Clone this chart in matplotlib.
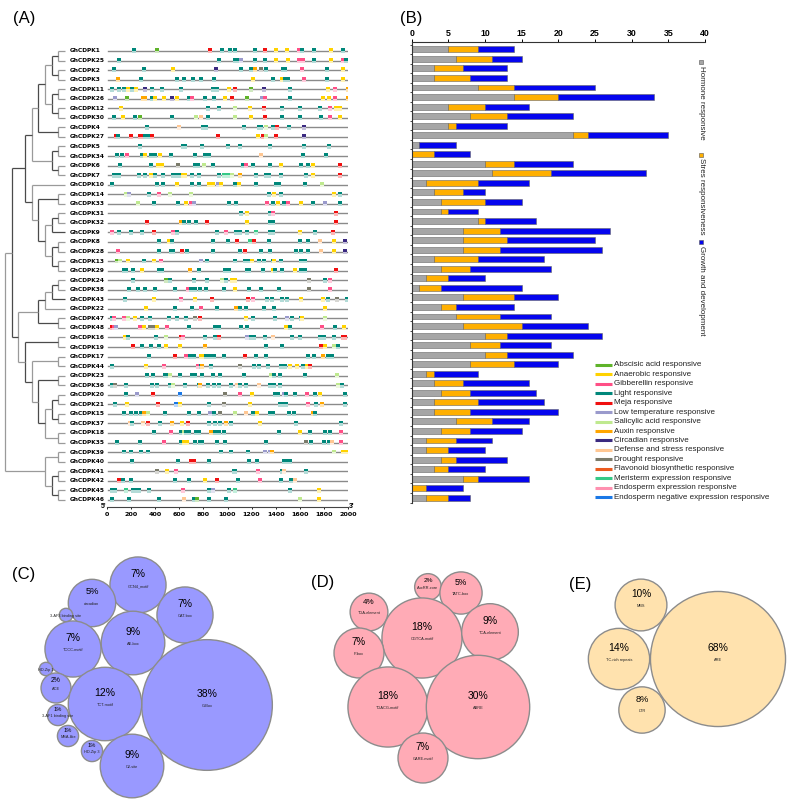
import numpy as np
import matplotlib
matplotlib.use('Agg')
import matplotlib.pyplot as plt
from matplotlib.patches import Rectangle, Circle

plt.rcParams['font.family'] = ['Liberation Sans', 'DejaVu Sans']

# ---------------- data ----------------
genes = ['GhCDPK' + n for n in
         ['1', '25', '2', '3', '11', '26', '12', '30', '4', '27', '5', '34', '6', '7',
          '10', '14', '33', '31', '32', '9', '8', '28', '13', '29', '24', '38', '43', '22',
          '47', '48', '16', '19', '17', '44', '23', '36', '20', '21', '15', '37', '18', '35',
          '39', '40', '41', '42', '45', '46']]

# phylogenetic tree (leaf numbers)
tree = (((((((('1', '25'), ('2', '3')), (('11', '26'), ('12', '30'))), ('4', '27')),
            (('5', '34'), ('6', '7'))),
           ('10', (('14', '33'), ((('31', '32'), '9'), (('8', '28'), ('13', '29')))))),
          ((((('24', '38'), '43'), '22'), ('47', '48')),
           (('16', '19'), (('17', '44'), (('23', '36'), ((('20', '21'), ('15', '37')), ('18', '35'))))))),
         (('39', '40'), (('41', '42'), ('45', '46'))))

# cis-element sites per gene: code + position (bp)
motif_sites = [
    'L221 A415 M857 L957 L1018 L1059 L1225 M1308 Y1400 Y1494 G1593 L1621 L1715 Y1862 L1958',
    'L100 L927 L1059 L1087 T1115 L1225 L1308 Y1400 Y1502 G1593 G1626 L1715 Y1862 G1958 L1980',
    'L55 L304 Y545 C902 L1109 L1198 O1225 R1281 L1322 L1460 L1480 G1618 L1828 Y1958',
    'O91 L279 L584 L639 L714 L777 L888 Y1212 L1377 Y1455 L1480 L1502 G1635 L1828 Y1958',
    'L44 L97 L141 Y174 L210 Y243 C318 L373 L456 L617 L880 L913 Y1010 M1065 A1198 C1303 L1521 Y1834 G1889 O2000',
    'T69 A166 O299 O318 L376 Y401 Y473 C539 Y584 L680 G705 L816 L885 Y982 M1037 A1162 T1286 G1308 L1521 Y1792 Y1839 G1889 O2000',
    'Y113 L838 L929 S1059 Y1189 M1300 L1452 L1599 L1770 G1848 Y1903 Y1936',
    'L58 Y133 L230 A271 L539 S741 D777 L838 S1059 Y1198 M1308 L1455 L1599 L1773 G1848 Y1936',
    'L335 D595 L797 L824 L1137 L1261 L1281 S1322 L1377 M1411 L1508 C1632',
    'M72 L91 M196 M271 M293 L318 L340 M373 M921 Y1253 M1294 S1322 M1400 C1632',
    'L277 L631 L650 L788 L1004 L1106 L1355 L1632 L1842',
    'L83 L127 G166 L293 Y318 L368 L401 Y437 L528 L727 L816 L844 D1281 L1626 L1820',
    'L105 L362 Y423 Y459 R589 L733 L755 S805 L880 L1129 G1151 L1212 L1350 Y1447 L1607 L1668 Y1709 M1931',
    'L58 L77 L100 L263 L318 Y368 L401 L465 L548 L575 L603 Y631 Y645 L708 L761 L927 E968 E1004 S1037 O1101 L1234 L1322 L1344 L1447 L1654 Y1709 M1931',
    'L44 L418 L465 Y581 L708 L761 Y844 Y880 T921 Y949 L1059 Y1095 L1239 L1405 L1427 L1646 S1787',
    'S160 T180 L346 G432 S520 S694 L1344 Y1383 L1441 Y1884 L1931',
    'S257 L387 L589 Y658 G700 T722 L1012 L1073 G1330 L1377 Y1419 L1469 G1502 Y1607 L1709 T1806 L1931',
    'L1115 Y1165 L1350 G1377 M1898',
    'M335 O611 L639 L680 L741 M830 Y1165 L1350 L1377 M1898',
    'G41 L97 L202 L290 M390 G548 L584 L913 G985 L1073 L1106 L1162 E1239 L1350 L1377 Y1599 L1723 M1875',
    'L432 Y515 L542 L880 L1007 M1079 E1189 M1223 L1344 L1599 L1668 D1765 Y1884 C1978',
    'G91 L432 L534 L548 M625 L667 L880 L1106 M1142 L1281 L1350 L1566 L1613 L1668 D1779 Y1884 C1978',
    'A83 S105 Y174 L307 Y387 G451 T777 L830 L1059 L1142 L1162 L1184 Y1203 L1261 L1303 L1377 Y1383 L1441 L1613 L1640',
    'L141 L160 L216 Y293 L432 L456 O686 L761 L982 L1010 L1165 L1178 L1294 Y1377 L1397 L1452 Y1557 L1613 L1640 M1898',
    'L216 A492 L520 L722 L830 S954 L985 Y1037 Y1065 R1676 L1806 G1848',
    'L180 L257 L318 L401 L561 G672 L694 L727 L769 L824 L968 Y1059 L1178 L1281 L1427 R1676 G1848',
    'L152 Y387 G617 Y727 M871 M1170 G1212 L1328 L1372 L1455 L1494 Y1607 Y1792 L1834 R1909 L1992',
    'Y326 L567 L708 G777 L913 O1073 L1101 L1156 L1300 L1383 Y1806',
    'L41 G58 G141 S174 Y230 L290 L360 L512 L581 L658 R727 M769 Y1156 L1212 L1391 T1494 L1538 L1613 Y1618 S1806',
    'M41 G58 T72 G277 Y307 R354 R390 Y415 G501 L678 L893 L927 L1109 L1162 Y1488 L1516 G1784 L1889 Y1964',
    'Y147 L174 L404 S492 M611 G631 L810 L899 M927 T1165 L1192 L1220 L1314 D1377 L1535 L1599 L1765 L1798 L1884 M1958 M1978',
    'M216 L293 L362 L432 Y492 Y603 O810 L1322 L1452 M1779 Y1806 S1884 L1917',
    'L346 M561 G658 L686 L722 Y783 Y797 L824 L857 L888 L968 M1142 L1234 L1322 L1668 L1715 O1792 L1834 L1870',
    'L44 Y326 G470 G755 L783 O788 L866 R1101 L1220 L1259 L1336 L1447 L1480 Y1516 Y1579 L1626 Y1662 M1682',
    'L332 L382 L478 L515 S526 L603 L708 L727 L791 L880 L935 L1137 S1364 L1383 L1433 L1646 S1911',
    'L41 R64 L155 L373 L418 L520 S548 L645 L761 O769 L838 L885 L927 L1032 D1079 L1106 L1151 D1261 L1355 L1383 L1433 S1917 L1950',
    'L155 T249 M382 N603 R982 G1101 Y1203 L1391 L1419 T1466 L1488 L1557 G1660 L1723 Y1770 L1978',
    'L69 Y166 M423 N575 Y603 L844 R971 Y1189 L1433 L1455 L1488 G1668 L1731 O1787 L1978',
    'L144 L202 L243 L285 O304 S340 L478 L680 L763 T857 L888 R940 S1065 D1151 L1212 Y1245 L1355 L1377 L1508 L1552 O1709 L1729',
    'D188 L207 D299 M340 L437 O542 Y625 M672 L844 L899 L940 O985 L1032 Y1272 L1571 L1945',
    'L387 G528 L617 S636 L658 L678 L741 L761 O866 L893 L927 L971 L1427 Y1599 L1682 L1687 L1806 L1848 G1945',
    'L83 L271 G473 L617 Y636 Y667 L727 L769 L788 L913 L976 L1322 R1649 L1690 L1801 L1839 D1870 G1945',
    'L138 L202 L285 L340 L949 L1032 L1170 T1308 T1355 O1372 S1884 Y1958 Y1980',
    'L210 L589 M700 M722 L844 L1176 L1248 L1469 L1494 L1516',
    'R418 Y501 G575 L1054 L1065 G1253 L1452 D1466 L1649',
    'M97 L133 L196 L567 L678 Y810 M913 L1087 G1267 L1447 L1530 D1557',
    'L41 L64 E155 L216 L249 L266 L349 G628 L844 T880 L1010 E1059 L1516 Y1756',
    'L44 L180 L429 D636 L719 A747 L846 L990 S1604 Y1756',
]

element_codes = ['A', 'Y', 'G', 'L', 'M', 'T', 'S', 'O', 'C', 'D', 'R', 'F', 'E', 'P', 'N']
element_names = ['Abscisic acid responsive', 'Anaerobic responsive', 'Gibberellin responsive',
                 'Light responsive', 'Meja responsive', 'Low temperature responsive',
                 'Salicylic acid responsive', 'Auxin responsive', 'Circadian responsive',
                 'Defense and stress responsive', 'Drought responsive',
                 'Flavonoid biosynthetic responsive', 'Meristerm expression responsive',
                 'Endosperm expression responsive', 'Endosperm negative expression responsive']
element_colors = ['#5fb32a', '#ffd200', '#ff4f86', '#00877a', '#f01010', '#9a9acc', '#bfe98f',
                  '#ffa600', '#3b2a80', '#ffc793', '#7b7b6b', '#ec5a1e', '#35c987', '#ff90b0', '#1a78e6']

# element counts (panel B)
hormone = [5, 6, 3, 3, 9, 14, 5, 8, 5, 22, 1, 0, 10, 11, 2, 3, 4, 4, 9, 7, 7, 7, 3, 4,
           2, 1, 7, 4, 6, 7, 10, 8, 10, 8, 2, 3, 4, 3, 3, 6, 4, 2, 2, 4, 3, 7, 0, 2]
stress = [4, 5, 4, 5, 5, 6, 5, 5, 1, 2, 0, 3, 4, 8, 7, 4, 6, 1, 1, 5, 6, 5, 6, 4,
          3, 3, 7, 2, 6, 8, 3, 4, 3, 6, 1, 4, 4, 6, 5, 5, 4, 4, 3, 2, 2, 2, 2, 3]
growth = [5, 4, 6, 5, 11, 13, 6, 9, 7, 11, 5, 5, 8, 13, 7, 3, 5, 4, 7, 15, 12, 14, 9, 11,
          5, 11, 6, 8, 7, 9, 13, 7, 9, 6, 6, 9, 9, 9, 12, 5, 7, 5, 5, 7, 5, 7, 5, 3]
categories = ['Hormone responsive', 'Stres responsiveness', 'Growth and development']

# bubble panels
c_names = ['GCN4_motif', 'circadian', 'CAT-box', '3-AF3 binding site', 'TCCC-motif', 'AE-box',
           'G-Box', 'HD-Zip 1', 'ACE', 'TCT-motif', '3-AF1 binding site', 'MSA-like',
           'HD-Zip 3', 'O2-site']
c_pct = [7, 5, 7, 0.4, 7, 9, 38, 0.4, 2, 12, 1, 1, 1, 9]
d_names = ['AuxRR-core', 'TATC-box', 'TGA-element', 'CGTCA-motif', 'TCA-element', 'P-box',
           'TGACG-motif', 'ABRE', 'GARE-motif']
d_pct = [2, 5, 4, 18, 9, 7, 18, 30, 7]
e_names = ['MBS', 'TC-rich repeats', 'ARE', 'LTR']
e_pct = [10, 14, 68, 8]

# bubble layout (pixel centres)
c_xy = [(138, 585), (92, 603), (185, 615), (66, 615), (73, 649), (133, 643), (207, 705),
        (46, 669), (56, 688), (105, 704), (58, 715), (68, 736), (92, 751), (132, 766)]
d_xy = [(428, 587), (461, 593), (369, 612), (422, 638), (490, 632), (359, 653), (388, 707),
        (478, 707), (423, 758)]
e_xy = [(641, 605), (619, 659), (718, 659), (642, 710)]

# ---------------- figure ----------------
W, H = 798, 802
fig = plt.figure(figsize=(W / 100, H / 100), dpi=100)


def px_axes(x0, y0, x1, y1):
    a = fig.add_axes([x0 / W, 1 - y1 / H, (x1 - x0) / W, (y1 - y0) / H])
    a.set_facecolor('none')
    return a


row_of = {g: i for i, g in enumerate(genes)}
n = len(genes)

# ---- panel A: tree ----
ta = px_axes(0, 42, 107, 507)
ta.set_xlim(0, 107)
ta.set_ylim(47.75, -0.94)
ta.axis('off')
leaf_x, step = 65, 60 / 9


def draw_tree(node):
    if isinstance(node, str):
        return leaf_x, row_of['GhCDPK' + node], 0
    kids = [draw_tree(c) for c in node]
    h = max(k[2] for k in kids) + 1
    x = leaf_x - step * h
    ys = [k[1] for k in kids]
    shade = '#9a9a9a' if h % 2 else '#4a4a4a'
    ta.plot([x, x], [min(ys), max(ys)], color=shade, lw=0.9, solid_capstyle='butt')
    for kx, ky, _ in kids:
        ta.plot([x, kx], [ky, ky], color=shade, lw=0.9, solid_capstyle='butt')
    return x, (min(ys) + max(ys)) / 2, h


draw_tree(tree)
for g, i in row_of.items():
    ta.text(70, i, g, fontsize=4.2, fontweight='bold', family='DejaVu Sans',
            va='center', ha='left')

# ---- panel A: motifs ----
ma = px_axes(107, 42, 348, 507)
ma.set_xlim(0, 2000)
ma.set_ylim(47.75, -0.94)
code_color = dict(zip(element_codes, element_colors))
for i, sites in enumerate(motif_sites):
    ma.plot([10, 2000], [i, i], color='#8a8a8a', lw=1, zorder=1)
    for s in sites.split():
        c = code_color[s[0]]
        pos = float(s[1:])
        rgb = np.array(matplotlib.colors.to_rgb(c))
        pale = rgb * 0.3 + 0.7
        ma.add_patch(Rectangle((pos - 16, i - 0.27), 32, 0.27, color=c, lw=0, zorder=2))
        ma.add_patch(Rectangle((pos - 16, i), 32, 0.25, color=pale, lw=0, zorder=2))
for sp in ['top', 'left', 'right']:
    ma.spines[sp].set_visible(False)
ma.spines['bottom'].set_color('#444')
ma.spines['bottom'].set_linewidth(0.8)
ma.set_yticks([])
ma.set_xticks(range(0, 2001, 200))
ma.tick_params(axis='x', labelsize=4.6, length=1.5, pad=1.8, width=0.6)
for t in ma.get_xticklabels():
    t.set_fontweight('bold')
    t.set_family('DejaVu Sans')

# ---- panel B: stacked bars ----
ba = px_axes(411.7, 42, 705, 503)
y = np.arange(n)
h_arr, s_arr, g_arr = np.array(hormone), np.array(stress), np.array(growth)
bar_cols = ['#a6a6a6', '#ffaf00', '#0505ee']
ba.barh(y, h_arr, height=0.62, color=bar_cols[0], edgecolor='#666', lw=0.4)
ba.barh(y, s_arr, left=h_arr, height=0.62, color=bar_cols[1], edgecolor='#666', lw=0.4)
ba.barh(y, g_arr, left=h_arr + s_arr, height=0.62, color=bar_cols[2], edgecolor='#666', lw=0.4)
ba.set_xlim(0, 40)
ba.set_ylim(47.55, -0.765)
ba.xaxis.tick_top()
ba.set_xticks(range(0, 41, 5))
ba.tick_params(axis='x', labelsize=6.3, length=2, pad=1, width=0.7)
for t in ba.get_xticklabels():
    t.set_fontweight('bold')
ba.set_yticks(np.arange(-0.5, n, 1))
ba.set_yticklabels([])
ba.tick_params(axis='y', length=1.5, width=0.5)
for sp in ['bottom', 'right']:
    ba.spines[sp].set_visible(False)
for sp in ['top', 'left']:
    ba.spines[sp].set_color('#333')
    ba.spines[sp].set_linewidth(0.8)

# overlay in pixel coordinates (legends, bubbles, labels)
ov = fig.add_axes([0, 0, 1, 1])
ov.set_xlim(0, W)
ov.set_ylim(H, 0)
ov.axis('off')
ov.set_zorder(10)

ov.text(104, 506, "5'", fontsize=5, fontweight='bold', ha='center', va='center')
ov.text(352, 506, "3'", fontsize=5, fontweight='bold', ha='center', va='center')

# rotated category legend
for cat, col, y0 in zip(categories, bar_cols, [60, 153, 240]):
    ov.add_patch(Rectangle((699, y0), 4, 4, fc=col, ec='#555', lw=0.4))
    ov.text(701.5, y0 + 5.5, cat, rotation=270, ha='center', va='top', fontsize=5.8, color='#222')

# element colour legend
for k, (name, col) in enumerate(zip(element_names, element_colors)):
    yy = 365 + 9.43 * k
    ov.plot([595, 612], [yy, yy], color=col, lw=2.2, solid_capstyle='butt')
    ov.text(614, yy, name, fontsize=5.8, va='center', ha='left', color='#222')

# ---- panels C, D, E: bubbles ----


def bubbles(names, pct, xy, scale, fc):
    for name, p, (cx, cy) in zip(names, pct, xy):
        r = scale * np.sqrt(p)
        ov.add_patch(Circle((cx, cy), r, fc=fc, ec='#8c8c8c', lw=1))
        if p >= 1:
            fs = min(7.5, 2 + 0.2 * r)
            ov.text(cx, cy - min(11, 0.5 * r), f'{p}%', fontsize=fs, ha='center', va='center')
        ov.text(cx, cy + 1, name, fontsize=2.8, ha='center', va='center', color='#222')


bubbles(c_names, c_pct, c_xy, 10.6, '#9999ff')
bubbles(d_names, d_pct, d_xy, 9.44, '#ffabb6')
bubbles(e_names, e_pct, e_xy, 8.19, '#ffe2ae')

# panel labels
for lab, (lx, ly) in zip(['(A)', '(B)', '(C)', '(D)', '(E)'],
                         [(24, 19), (411, 19), (24, 575), (323, 583), (580, 585)]):
    ov.text(lx, ly, lab, fontsize=12, ha='center', va='center')

fig.savefig('out.png', dpi=100)
